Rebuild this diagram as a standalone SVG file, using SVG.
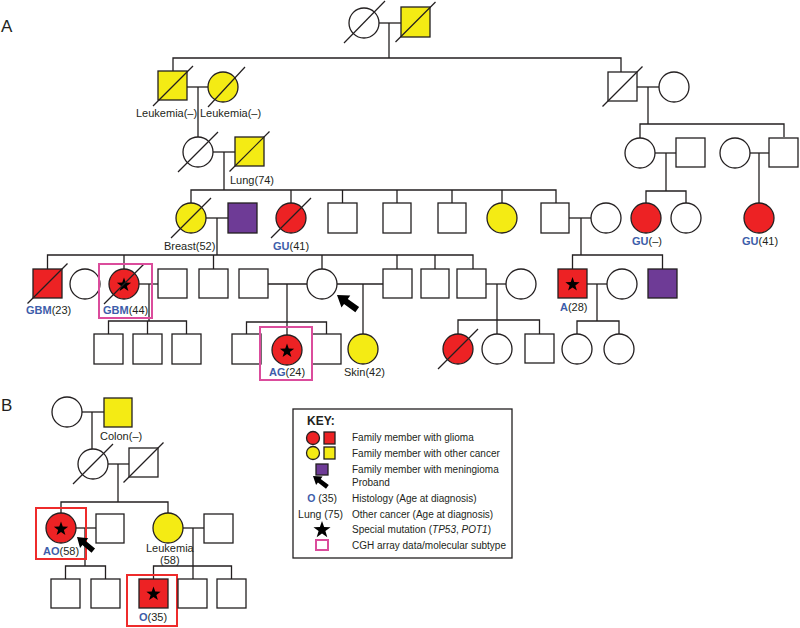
<svg xmlns="http://www.w3.org/2000/svg" xmlns:xlink="http://www.w3.org/1999/xlink" width="800" height="628" viewBox="0 0 800 628">
<style>
.n{stroke:#231F20;stroke-width:1.3;fill:#fff}
.y{fill:#F4EB14}
.r{fill:#ED2224}
.p{fill:#6E3B96}
.d{stroke:#231F20;stroke-width:1.2}
.c line,.c polyline{stroke:#231F20;stroke-width:1.3;fill:none}
text{font-family:"Liberation Sans",Arial,Helvetica,sans-serif;fill:#231F20}
.l{font-size:11px}
.h{fill:#3D5DAA;font-weight:bold}
.k{font-size:10px}
.pb{fill:none;stroke:#DB4C9C;stroke-width:2}
.rb{fill:none;stroke:#EE2B2B;stroke-width:2}
.big{font-size:17px}
</style>
<defs>
<path id="star" d="M0,-7.5 L1.76,-2.43 L7.13,-2.32 L2.85,0.93 L4.41,6.07 L0,3 L-4.41,6.07 L-2.85,0.93 L-7.13,-2.32 L-1.76,-2.43 Z" fill="#000"/>
<path id="arrow" d="M0,0 L11,-7.5 L11,-3.2 L25,-3.2 L25,3.2 L11,3.2 L11,7.5 Z" fill="#000"/>
</defs>

<text class="big" x="1" y="32">A</text>
<text class="big" x="1" y="411">B</text>

<g id="connectors" class="c">
<!-- gen1 -->
<line x1="379" y1="23" x2="401" y2="23"/>
<polyline points="389,23 389,58"/>
<polyline points="173,71 173,58 621,58 621,72"/>
<!-- gen2 left -->
<line x1="187" y1="87" x2="208" y2="87"/>
<line x1="198" y1="87" x2="198" y2="137"/>
<line x1="213" y1="152" x2="235" y2="152"/>
<line x1="224" y1="152" x2="224" y2="190"/>
<polyline points="191,203 191,190 556,190 556,203"/>
<line x1="291" y1="190" x2="291" y2="203"/>
<line x1="342.5" y1="190" x2="342.5" y2="203"/>
<line x1="397" y1="190" x2="397" y2="203"/>
<line x1="452" y1="190" x2="452" y2="203"/>
<line x1="502" y1="190" x2="502" y2="203"/>
<!-- gen2 right -->
<line x1="637" y1="87" x2="659" y2="87"/>
<line x1="648" y1="87" x2="648" y2="124"/>
<polyline points="640,138 640,124 784,124 784,137"/>
<line x1="655" y1="153" x2="676" y2="153"/>
<line x1="666" y1="153" x2="666" y2="191"/>
<polyline points="646,203 646,191 686,191 686,203"/>
<line x1="750" y1="153" x2="769" y2="153"/>
<line x1="759" y1="153" x2="759" y2="203"/>
<!-- gen3 -->
<line x1="206" y1="218" x2="228" y2="218"/>
<line x1="217" y1="218" x2="217" y2="255"/>
<polyline points="47.5,269 47.5,255 473,255 473,269"/>
<line x1="124" y1="255" x2="124" y2="269"/>
<line x1="213.5" y1="255" x2="213.5" y2="269"/>
<line x1="322" y1="255" x2="322" y2="269"/>
<line x1="397" y1="255" x2="397" y2="269"/>
<line x1="435" y1="255" x2="435" y2="269"/>
<line x1="569" y1="218" x2="591" y2="218"/>
<line x1="581" y1="218" x2="581" y2="255"/>
<polyline points="572.5,269 572.5,255 662.5,255 662.5,269"/>
<!-- gen4 -->
<line x1="139" y1="284" x2="158" y2="284"/>
<line x1="149" y1="284" x2="149" y2="321"/>
<polyline points="108.5,334 108.5,321 186.5,321 186.5,334"/>
<line x1="147.5" y1="321" x2="147.5" y2="334"/>
<line x1="268" y1="284" x2="307" y2="284"/>
<line x1="287" y1="284" x2="287" y2="335"/>
<polyline points="246.5,334 246.5,322 326.5,322 326.5,334"/>
<line x1="337" y1="284" x2="383" y2="284"/>
<line x1="363" y1="284" x2="363" y2="334"/>
<line x1="486" y1="284" x2="506" y2="284"/>
<line x1="497" y1="284" x2="497" y2="334"/>
<polyline points="458,334 458,320 539.5,320 539.5,334"/>
<line x1="587" y1="284" x2="607" y2="284"/>
<line x1="597" y1="284" x2="597" y2="321"/>
<polyline points="577,334 577,321 619,321 619,334"/>
<!-- panel B -->
<line x1="82" y1="412" x2="104" y2="412"/>
<line x1="92" y1="412" x2="92" y2="449"/>
<line x1="108" y1="464" x2="129" y2="464"/>
<line x1="118" y1="464" x2="118" y2="502"/>
<polyline points="61,513 61,502 168,502 168,513"/>
<line x1="76" y1="528" x2="96" y2="528"/>
<line x1="85" y1="528" x2="85" y2="566"/>
<polyline points="65.5,579 65.5,566 105.5,566 105.5,579"/>
<line x1="183" y1="528" x2="204" y2="528"/>
<line x1="193" y1="528" x2="193" y2="579"/>
<polyline points="153.5,579 153.5,566 231.5,566 231.5,579"/>
</g>

<!-- generation 1 -->
<g id="g1-f"><circle class="n" cx="364" cy="23" r="15"/><line class="d" x1="344" y1="43" x2="385" y2="1"/></g>
<g id="g1-m"><rect class="n y" x="401" y="7" width="29" height="30"/><line class="d" x1="395.5" y1="42" x2="435.5" y2="2"/></g>

<!-- generation 2 -->
<g id="g2-leuk-m"><rect class="n y" x="158" y="71" width="29" height="29"/><line class="d" x1="153" y1="106" x2="193" y2="66"/><text class="l" x="136" y="117">Leukemia(–)</text></g>
<g id="g2-leuk-f"><circle class="n y" cx="223" cy="87" r="15"/><line class="d" x1="208" y1="107" x2="245" y2="67"/><text class="l" x="200" y="117">Leukemia(–)</text></g>
<g id="g2-right-m"><rect class="n" x="608" y="72" width="29" height="29"/><line class="d" x1="602.5" y1="106.5" x2="642.5" y2="66.5"/></g>
<g id="g2-right-f"><circle class="n" cx="674" cy="87" r="15"/></g>

<!-- generation 3 -->
<g id="g3-f"><circle class="n" cx="198" cy="152" r="15"/><line class="d" x1="178" y1="172" x2="218" y2="132"/></g>
<g id="g3-lung"><rect class="n y" x="235" y="137" width="29" height="29"/><line class="d" x1="229.5" y1="171.5" x2="269.5" y2="131.5"/><text class="l" x="230" y="184">Lung(74)</text></g>
<g id="g3-r1"><circle class="n" cx="640" cy="153" r="15"/></g>
<g id="g3-r2"><rect class="n" x="676" y="138" width="29" height="29"/></g>
<g id="g3-r3"><circle class="n" cx="735" cy="153" r="15"/></g>
<g id="g3-r4"><rect class="n" x="769" y="138" width="29" height="29"/></g>

<!-- generation 4 -->
<g id="g4-breast"><circle class="n y" cx="191" cy="218" r="15"/><line class="d" x1="171" y1="238" x2="211" y2="198"/><text class="l" x="164" y="250">Breast(52)</text></g>
<g id="g4-mening"><rect class="n p" x="228" y="203" width="29" height="30"/></g>
<g id="g4-gu41"><circle class="n r" cx="291" cy="218" r="15"/><line class="d" x1="271" y1="238" x2="311" y2="198"/><text class="l" x="273" y="250"><tspan class="h">GU</tspan>(41)</text></g>
<g id="g4-s1"><rect class="n" x="328" y="203" width="29" height="30"/></g>
<g id="g4-s2"><rect class="n" x="383" y="203" width="28" height="30"/></g>
<g id="g4-s3"><rect class="n" x="438" y="203" width="28" height="30"/></g>
<g id="g4-yc"><circle class="n y" cx="502" cy="218" r="15"/></g>
<g id="g4-s4"><rect class="n" x="541" y="203" width="28" height="30"/></g>
<g id="g4-c1"><circle class="n" cx="606" cy="218" r="15"/></g>
<g id="g4-gum"><circle class="n r" cx="646" cy="218" r="15"/><text class="l" x="632" y="245"><tspan class="h">GU</tspan>(–)</text></g>
<g id="g4-c2"><circle class="n" cx="686" cy="218" r="15"/></g>
<g id="g4-gu41r"><circle class="n r" cx="759" cy="218" r="15"/><text class="l" x="742" y="245"><tspan class="h">GU</tspan>(41)</text></g>

<!-- generation 5 -->
<g id="g5-gbm23"><rect class="n r" x="33" y="269" width="29" height="29"/><line class="d" x1="27.5" y1="303.5" x2="67.5" y2="263.5"/><text class="l" x="26" y="314"><tspan class="h">GBM</tspan>(23)</text></g>
<g id="g5-c1"><circle class="n" cx="85" cy="284" r="15"/></g>
<g id="g5-gbm44"><circle class="n r" cx="124" cy="284" r="15"/><use href="#star" x="124" y="285"/><line class="d" x1="104" y1="304" x2="144" y2="264"/><rect class="pb" x="99" y="264" width="53" height="54"/><text class="l" x="103" y="314"><tspan class="h">GBM</tspan>(44)</text></g>
<g id="g5-s1"><rect class="n" x="158" y="269" width="29" height="29"/></g>
<g id="g5-s2"><rect class="n" x="199" y="269" width="29" height="29"/></g>
<g id="g5-s3"><rect class="n" x="239" y="269" width="29" height="29"/></g>
<g id="g5-proband"><circle class="n" cx="322" cy="284" r="15"/><use href="#arrow" transform="translate(337,295) rotate(36)"/></g>
<g id="g5-s4"><rect class="n" x="383" y="269" width="29" height="29"/></g>
<g id="g5-s5"><rect class="n" x="421" y="269" width="28" height="29"/></g>
<g id="g5-s6"><rect class="n" x="457" y="269" width="29" height="29"/></g>
<g id="g5-c2"><circle class="n" cx="521" cy="284" r="15"/></g>
<g id="g5-a28"><rect class="n r" x="558" y="269" width="29" height="29"/><use href="#star" x="572.5" y="284.5"/><text class="l" x="560" y="311"><tspan class="h">A</tspan>(28)</text></g>
<g id="g5-c3"><circle class="n" cx="622" cy="284" r="15"/></g>
<g id="g5-mening"><rect class="n p" x="648" y="269" width="29" height="29"/></g>

<!-- generation 6 -->
<g id="g6-s1"><rect class="n" x="94" y="334" width="29" height="30"/></g>
<g id="g6-s2"><rect class="n" x="133" y="334" width="29" height="30"/></g>
<g id="g6-s3"><rect class="n" x="172" y="334" width="29" height="30"/></g>
<g id="g6-s4"><rect class="n" x="232" y="334" width="29" height="30"/></g>
<g id="g6-s5"><rect class="n" x="312" y="334" width="29" height="30"/></g>
<g id="g6-ag"><circle class="n r" cx="287" cy="350" r="15"/><use href="#star" x="287" y="351"/><rect class="pb" x="260" y="327" width="52" height="53"/><text class="l" x="269" y="376"><tspan class="h">AG</tspan>(24)</text></g>
<g id="g6-skin"><circle class="n y" cx="363" cy="349" r="15"/><text class="l" x="344" y="376">Skin(42)</text></g>
<g id="g6-rd"><circle class="n r" cx="458" cy="349" r="15"/><line class="d" x1="438" y1="369" x2="478" y2="329"/></g>
<g id="g6-c1"><circle class="n" cx="497" cy="349" r="15"/></g>
<g id="g6-s6"><rect class="n" x="525" y="334" width="29" height="29"/></g>
<g id="g6-c2"><circle class="n" cx="577" cy="349" r="15"/></g>
<g id="g6-c3"><circle class="n" cx="619" cy="349" r="15"/></g>

<!-- panel B -->
<g id="b1-f"><circle class="n" cx="67" cy="412" r="15"/></g>
<g id="b1-m"><rect class="n y" x="104" y="398" width="28" height="29"/><text class="l" x="100" y="440">Colon(–)</text></g>
<g id="b2-f"><circle class="n" cx="93" cy="464" r="15"/><line class="d" x1="73" y1="484" x2="113" y2="444"/></g>
<g id="b2-m"><rect class="n" x="129" y="448" width="29" height="29"/><line class="d" x1="123.5" y1="482.5" x2="163.5" y2="442.5"/></g>
<g id="b3-ao"><circle class="n r" cx="61" cy="528" r="15"/><use href="#star" x="61" y="529"/><rect class="rb" x="36" y="508" width="50" height="51"/><text class="l" x="43" y="555"><tspan class="h">AO</tspan>(58)</text><use href="#arrow" transform="translate(77,537) rotate(40) scale(0.85)"/></g>
<g id="b3-s1"><rect class="n" x="96" y="514" width="28" height="29"/></g>
<g id="b3-leuk"><circle class="n y" cx="168" cy="528" r="15"/><text class="l" x="146" y="552">Leukemia</text><text class="l" x="160" y="564">(58)</text></g>
<g id="b3-s2"><rect class="n" x="204" y="514" width="29" height="29"/></g>
<g id="b4-s1"><rect class="n" x="51" y="579" width="29" height="29"/></g>
<g id="b4-s2"><rect class="n" x="91" y="579" width="29" height="29"/></g>
<g id="b4-o"><rect class="n r" x="139" y="579" width="29" height="29"/><use href="#star" x="153.5" y="594"/><rect class="rb" x="127" y="575" width="50" height="51"/><text class="l" x="139" y="621"><tspan class="h">O</tspan>(35)</text></g>
<g id="b4-s3"><rect class="n" x="178" y="579" width="29" height="29"/></g>
<g id="b4-s4"><rect class="n" x="217" y="579" width="29" height="29"/></g>

<!-- key -->
<g id="key">
<rect x="293" y="409" width="219" height="149" fill="#fff" stroke="#231F20" stroke-width="1.3"/>
<text x="307" y="425" font-size="12" font-weight="bold">KEY:</text>
<circle class="n r" cx="313" cy="438" r="6.5"/><rect class="n r" x="324" y="432" width="11" height="12"/>
<text class="k" x="352" y="441">Family member with glioma</text>
<circle class="n y" cx="313" cy="453" r="6.5"/><rect class="n y" x="324" y="447" width="11" height="12"/>
<text class="k" x="352" y="457">Family member with other cancer</text>
<rect class="n p" x="316" y="464" width="12" height="11"/>
<text class="k" x="352" y="473">Family member with meningioma</text>
<use href="#arrow" transform="translate(313,476) rotate(37) scale(0.72)"/>
<text class="k" x="352" y="486">Proband</text>
<text x="337" y="502" font-size="10.5" text-anchor="end"><tspan class="h" font-weight="normal" style="font-weight:bold">O</tspan> (35)</text>
<text class="k" x="352" y="502">Histology (Age at diagnosis)</text>
<text x="343" y="518" font-size="10.5" text-anchor="end">Lung (75)</text>
<text class="k" x="352" y="518">Other cancer (Age at diagnosis)</text>
<use href="#star" x="322" y="530" transform="translate(-64.4,-106) scale(1.2)"/>
<text class="k" x="352" y="533">Special mutation (<tspan font-style="italic">TP53</tspan>, <tspan font-style="italic">POT1</tspan>)</text>
<rect class="pb" x="316" y="540" width="12" height="10"/>
<text class="k" x="352" y="549">CGH array data/molecular subtype</text>
</g>
</svg>
